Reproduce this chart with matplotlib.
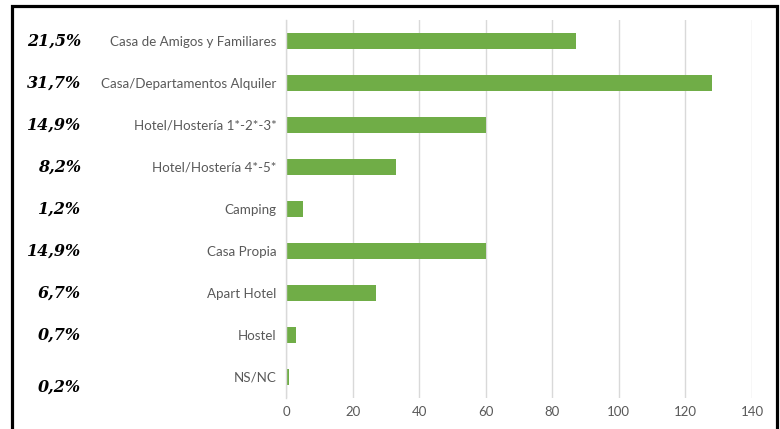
import matplotlib
matplotlib.use("Agg")
import matplotlib.pyplot as plt
from matplotlib.patches import Rectangle
from matplotlib.transforms import blended_transform_factory, offset_copy

categories = [
    "Casa de Amigos y Familiares",
    "Casa/Departamentos Alquiler",
    "Hotel/Hostería 1*-2*-3*",
    "Hotel/Hostería 4*-5*",
    "Camping",
    "Casa Propia",
    "Apart Hotel",
    "Hostel",
    "NS/NC",
]
values = [87, 128, 60, 33, 5, 60, 27, 3, 1]
percent_labels = ["21,5%", "31,7%", "14,9%", "8,2%", "1,2%", "14,9%", "6,7%", "0,7%", "0,2%"]
xticks = [0, 20, 40, 60, 80, 100, 120, 140]

bar_color = "#70AD47"
text_gray = "#595959"
grid_gray = "#D9D9D9"

fig = plt.figure(figsize=(7.8, 4.29), dpi=100)
fig.patch.set_facecolor("white")
ax = fig.add_axes([286 / 780, 31 / 429, (752 - 286) / 780, (409 - 31) / 429])

ypos = list(range(len(categories)))
ax.barh(ypos, values, height=0.39, color=bar_color, zorder=3)
ax.set_ylim(len(categories) - 0.5, -0.5)
ax.set_xlim(0, 140)
ax.set_xticks(xticks)
ax.set_xticklabels([str(t) for t in xticks])
ax.set_yticks(ypos)
ax.set_yticklabels(categories)

for lab in ax.get_yticklabels():
    lab.set_fontfamily("Lato")
    lab.set_fontsize(9.6)
    lab.set_color(text_gray)
for lab in ax.get_xticklabels():
    lab.set_fontfamily("Lato")
    lab.set_fontsize(9.5)
    lab.set_color(text_gray)

ax.tick_params(axis="y", length=0, pad=7)
ax.tick_params(axis="x", length=0, pad=6)
ax.grid(axis="x", color=grid_gray, linewidth=1, zorder=0)
ax.grid(axis="y", visible=False)
for side in ["top", "right", "bottom"]:
    ax.spines[side].set_visible(False)
ax.spines["left"].set_color(grid_gray)
ax.spines["left"].set_linewidth(1)
ax.spines["left"].set_zorder(4)

# Percentage share printed on the far left of each row
trans = blended_transform_factory(fig.transFigure, ax.transData)
for i, txt in enumerate(percent_labels):
    t = trans
    if i == len(percent_labels) - 1:
        t = offset_copy(trans, fig=fig, y=-7, units="points")
    fig.text(81 / 780, i, txt, transform=t, ha="right", va="center",
             fontfamily="DejaVu Serif", fontweight="bold", fontstyle="italic",
             fontsize=11.5, color="black")

# Black frame around the whole chart
frame = Rectangle((11.5 / 780, -0.05), (777 - 11.5) / 780, 1.05 - 6.5 / 429,
                  transform=fig.transFigure, fill=False, edgecolor="black",
                  linewidth=2.3, clip_on=False)
fig.patches.append(frame)

fig.savefig("out.png", dpi=100, facecolor="white")
